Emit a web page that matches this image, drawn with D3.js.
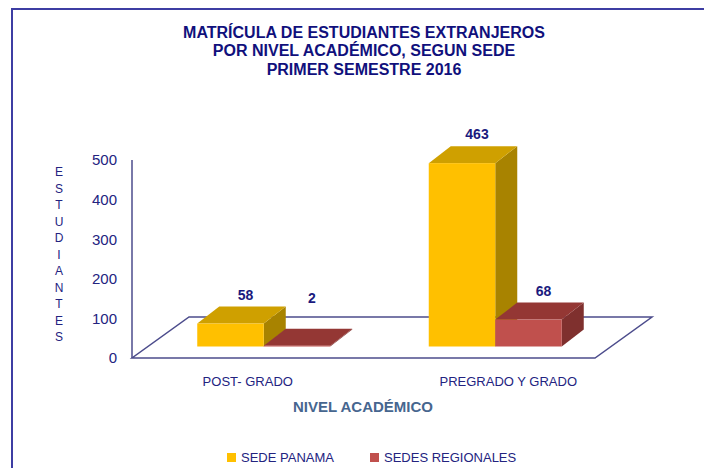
<!DOCTYPE html>
<html>
<head>
    <title>Matrícula de estudiantes extranjeros</title>
    <style>
        body { margin: 0; background: #fff; }
        svg { font-family: 'Liberation Sans', Arial, sans-serif; display: block; }
    </style>
</head>
<body>
    <div id="chart"></div>
    <script src="https://d3js.org/d3.v7.min.js"></script>
    <script>
        // data
        const categories = ["POST- GRADO", "PREGRADO Y GRADO"];
        const seriesNames = ["SEDE PANAMA", "SEDES REGIONALES"];
        const sedePanama = [58, 463];
        const sedesRegionales = [2, 68];
        const yTicks = [0, 100, 200, 300, 400, 500];
        const titleLines = ["MATRÍCULA DE ESTUDIANTES EXTRANJEROS", "POR NIVEL ACADÉMICO, SEGUN SEDE", "PRIMER SEMESTRE 2016"];

        const [width, height] = [704, 468];
        const colors = {
            "SEDE PANAMA": { front: "#ffc000", top: "#cfa000", side: "#a88300" },
            "SEDES REGIONALES": { front: "#c0504d", top: "#943734", side: "#7f302e" }
        };
        const axisColor = "#4c4c8c";

        // plot area (front floor edge + back wall offset)
        const plot = { left: 132, right: 595, bottom: 358, top: 160 };
        const floorDepth = { dx: 57, dy: -41 };
        const barOffset = { dx: 16, dy: -11.5 };   // where the bars sit on the floor
        const barDepth = { dx: 22, dy: -17 };

        const svg = d3.select("#chart").append("svg")
            .attr("width", width)
            .attr("height", height);

        // outer frame (right and bottom run off the page)
        svg.append("rect")
            .attr("x", 12).attr("y", 9)
            .attr("width", 900).attr("height", 600)
            .attr("fill", "none")
            .attr("stroke", "#3d3da3")
            .attr("stroke-width", 2);

        // title
        svg.append("text")
            .attr("text-anchor", "middle")
            .attr("font-size", 16)
            .attr("font-weight", "bold")
            .attr("fill", "#10107c")
            .selectAll("tspan")
            .data(titleLines)
            .join("tspan")
            .attr("x", 364)
            .attr("y", (d, i) => 37.5 + i * 18.5)
            .text(d => d);

        // scales
        const y = d3.scaleLinear().domain([0, 500]).range([plot.bottom, plot.top]);
        const x = d3.scaleBand().domain(categories).range([plot.left, plot.right]);
        const xInner = d3.scaleBand().domain(seriesNames)
            .range([-66.5, 66.5]);

        // floor
        const f = floorDepth;
        svg.append("path")
            .attr("d", `M${plot.left},${plot.bottom} L${plot.right},${plot.bottom} L${plot.right + f.dx},${plot.bottom + f.dy} L${plot.left + f.dx},${plot.bottom + f.dy} Z`)
            .attr("fill", "#fff")
            .attr("stroke", axisColor)
            .attr("stroke-width", 1.5);

        // vertical axis line
        svg.append("line")
            .attr("x1", plot.left).attr("x2", plot.left)
            .attr("y1", y(500)).attr("y2", y(0))
            .attr("stroke", axisColor)
            .attr("stroke-width", 1.5);

        // tick labels
        const yAxis = svg.append("g")
            .attr("transform", `translate(${plot.left},0)`)
            .call(d3.axisLeft(y).tickValues(yTicks).tickSize(0).tickPadding(15));
        yAxis.select(".domain").remove();
        yAxis.selectAll("text")
            .attr("font-family", "'Liberation Sans', Arial, sans-serif")
            .attr("font-size", 15)
            .attr("fill", "#23237f");

        // vertical axis title, one letter per line
        const yTitle = "ESTUDIANTES".split("");
        svg.append("g").selectAll("text")
            .data(yTitle)
            .join("text")
            .attr("x", 59)
            .attr("y", (d, i) => 176 + i * 16.5)
            .attr("text-anchor", "middle")
            .attr("font-size", 12)
            .attr("fill", "#23237f")
            .text(d => d);

        // bars as simple boxes
        const bars = [];
        categories.forEach((c, i) => {
            bars.push({ cat: c, series: seriesNames[0], value: sedePanama[i] });
            bars.push({ cat: c, series: seriesNames[1], value: sedesRegionales[i] });
        });

        const baseY = plot.bottom + barOffset.dy;
        const bw = xInner.bandwidth();
        const d = barDepth;

        const barG = svg.append("g").selectAll("g")
            .data(bars)
            .join("g");

        barG.each(function(b) {
            const g = d3.select(this);
            const x0 = x(b.cat) + x.bandwidth() / 2 + barOffset.dx + xInner(b.series);
            const x1 = x0 + bw;
            const h = y(0) - y(b.value);
            const yTop = baseY - h;
            const col = colors[b.series];

            g.append("path") // side
                .attr("d", `M${x1},${baseY} L${x1 + d.dx},${baseY + d.dy} L${x1 + d.dx},${yTop + d.dy} L${x1},${yTop} Z`)
                .attr("fill", col.side);
            g.append("path") // top
                .attr("d", `M${x0},${yTop} L${x0 + d.dx},${yTop + d.dy} L${x1 + d.dx},${yTop + d.dy} L${x1},${yTop} Z`)
                .attr("fill", col.top);
            g.append("rect") // front
                .attr("x", x0).attr("y", yTop)
                .attr("width", bw).attr("height", h)
                .attr("fill", col.front);
        });

        // value labels
        svg.append("g").selectAll("text")
            .data(bars)
            .join("text")
            .attr("x", b => x(b.cat) + x.bandwidth() / 2 + barOffset.dx + xInner(b.series) + bw / 2 + 15)
            .attr("y", b => baseY - (y(0) - y(Math.max(b.value, 50))) - 24)
            .attr("text-anchor", "middle")
            .attr("font-size", 14)
            .attr("font-weight", "bold")
            .attr("fill", "#1a1a7e")
            .text(b => b.value);

        // category labels
        const catLabelShift = [0, 29];
        svg.append("g").selectAll("text")
            .data(categories)
            .join("text")
            .attr("x", (c, i) => x(c) + x.bandwidth() / 2 + catLabelShift[i])
            .attr("y", 385.5)
            .attr("text-anchor", "middle")
            .attr("font-size", 13)
            .attr("fill", "#23237f")
            .text(c => c);

        svg.append("text")
            .attr("x", 363)
            .attr("y", 411.5)
            .attr("text-anchor", "middle")
            .attr("font-size", 15)
            .attr("font-weight", "bold")
            .attr("fill", "#46668f")
            .text("NIVEL ACADÉMICO");

        // legend
        const legendX = [227, 370];
        const legend = svg.append("g").selectAll("g")
            .data(seriesNames)
            .join("g")
            .attr("transform", (s, i) => `translate(${legendX[i]},453)`);
        legend.append("rect")
            .attr("width", 9).attr("height", 9)
            .attr("fill", s => colors[s].front);
        legend.append("text")
            .attr("x", 14).attr("y", 8.5)
            .attr("font-size", 13)
            .attr("fill", "#23237f")
            .text(s => s);
    </script>
</body>
</html>
